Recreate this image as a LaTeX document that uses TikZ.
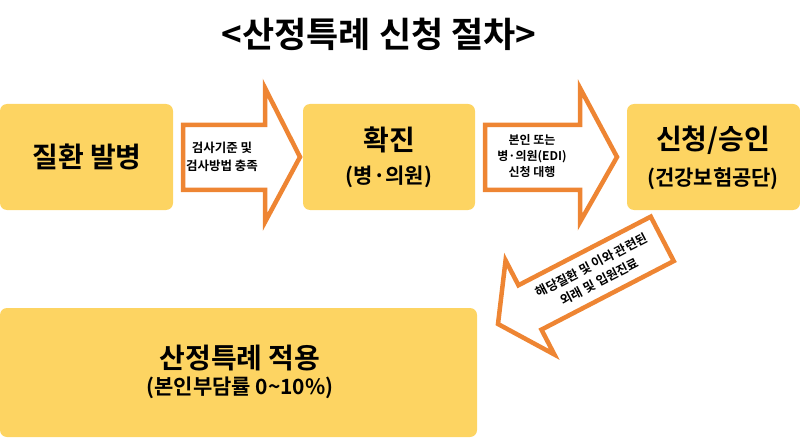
\documentclass[tikz,border=0pt]{standalone}
\usepackage{fontspec}
\setmainfont{Noto Sans CJK KR}
\newfontfamily\kb{Noto Sans CJK KR Bold}
\definecolor{boxy}{HTML}{FDD462}
\definecolor{arro}{HTML}{EE8533}
\begin{document}
\begin{tikzpicture}[x=1pt,y=1pt,
  ybox/.style={fill=boxy,draw=none,rounded corners=7pt},
  barrow/.style={draw=arro,line width=4.5pt,fill=white,line join=miter},
  big/.style={font=\kb\fontsize{28}{32}\selectfont,align=center},
  mid/.style={font=\kb\fontsize{21}{25}\selectfont,align=center},
  small/.style={font=\kb\fontsize{12.5}{18}\selectfont,align=center}]
\useasboundingbox (0,0) rectangle (800,437);
\node[font=\kb\fontsize{35}{40}\selectfont] (title) at (379,403) {<산정특례 신청 절차>};
\fill[ybox] (0,227) rectangle (173,333);
\fill[ybox] (303,227) rectangle (475,333);
\fill[ybox] (627,227) rectangle (800,333);
\fill[ybox] (0,0) rectangle (477,129);
\node[big] (b1) at (87,280) {질환 발병};
\node[big] (b2a) at (389,297) {확진};
\node[mid] (b2b) at (389,260) {(병·의원)};
\node[big] (b3a) at (713,297) {신청/승인};
\node[mid] (b3b) at (713,258) {(건강보험공단)};
\node[big] (b4a) at (240,79) {산정특례 적용};
\node[mid] (b4b) at (240,49) {(본인부담률 0\textasciitilde10\%)};
\draw[barrow] (183,312)--(265,312)--(265,349)--(300,280)--(265,215)--(265,247)--(183,247)--cycle;
\node[small] (a1) at (222,280) {검사기준 및\\검사방법 충족};
\draw[barrow] (485,312)--(580,312)--(580,349)--(617,280)--(580,215)--(580,247)--(485,247)--cycle;
\node[small,font=\kb\fontsize{12}{16}\selectfont] (a2) at (532,281) {본인 또는\\병·의원(EDI)\\신청 대행};
\begin{scope}[shift={(498,113)},rotate=27.4]
\draw[barrow] (0,0)--(36,53)--(36,25)--(185,25)--(185,-25)--(36,-25)--(36,-53)--cycle;
\node[small,rotate=27.4] (a3) at (110,0) {해당질환 및 이와 관련된\\외래 및 입원진료};
\end{scope}
\end{tikzpicture}
\end{document}
